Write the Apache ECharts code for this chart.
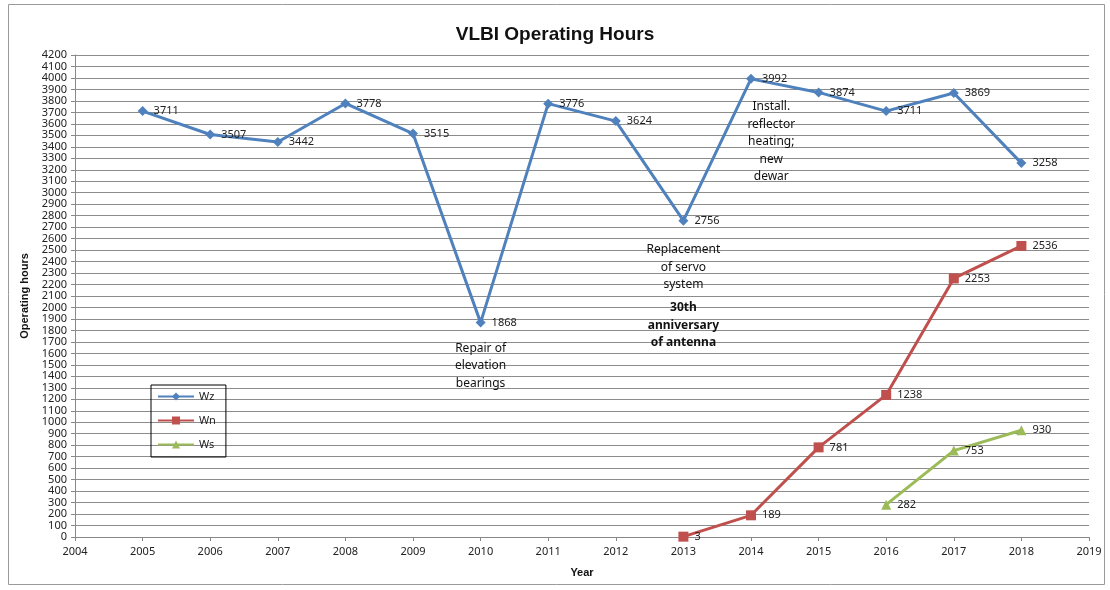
<!DOCTYPE html>
<html>
<head>
<meta charset="utf-8">
<script src="https://cdn.jsdelivr.net/npm/echarts@6/dist/echarts.min.js"></script>
<style>
    html, body { margin: 0; padding: 0; background: #fff; }
    #chart { width: 1110px; height: 590px; }
</style>
</head>
<body>
<div id="chart"></div>
<script>
    // operating hours per year
    const wzYears = [2005, 2006, 2007, 2008, 2009, 2010, 2011, 2012, 2013, 2014, 2015, 2016, 2017, 2018]
    const wzHours = [3711, 3507, 3442, 3778, 3515, 1868, 3776, 3624, 2756, 3992, 3874, 3711, 3869, 3258]
    const wnYears = [2013, 2014, 2015, 2016, 2017, 2018]
    const wnHours = [3, 189, 781, 1238, 2253, 2536]
    const wsYears = [2016, 2017, 2018]
    const wsHours = [282, 753, 930]

    // notes: [year, hours (top of text), text, bold]
    const notes = [
        [2010, 1720, 'Repair of\nelevation\nbearings', false],
        [2013, 2580, 'Replacement\nof servo\nsystem', false],
        [2013, 2075, '30th\nanniversary\nof antenna', true],
        [2014.3, 3825, 'Install.\nreflector\nheating;\nnew\ndewar', false]
    ]

    const font = 'Noto Sans'
    const pairs = (xs, ys) => xs.map((x, i) => [x, ys[i]])

    const chart = echarts.init(document.getElementById('chart'))

    function lineSeries(name, xs, ys, color, symbol, size) {
        return {
            name: name,
            type: 'line',
            data: pairs(xs, ys),
            symbol: symbol,
            symbolSize: size,
            itemStyle: { color: color },
            lineStyle: { color: color, width: 3 },
            label: {
                show: true,
                position: 'right',
                distance: 6,
                fontFamily: font,
                fontSize: 11,
                color: '#222'
            },
            animation: false
        }
    }

    chart.setOption({
        title: {
            text: 'VLBI Operating Hours',
            left: 'center',
            top: 20,
            textStyle: { fontFamily: 'Liberation Sans', fontSize: 19, fontWeight: 'bold', color: '#111' }
        },
        legend: {
            orient: 'vertical',
            left: 151,
            top: 385,
            itemWidth: 36,
            itemHeight: 10,
            itemGap: 13,
            padding: [6, 10, 7, 6],
            borderColor: '#000',
            borderWidth: 1,
            textStyle: { fontFamily: font, fontSize: 11, color: '#222' },
            data: ['Wz', 'Wn', 'Ws']
        },
        grid: { left: 75, right: 21, top: 55, bottom: 53 },
        xAxis: {
            type: 'value',
            min: 2004,
            max: 2019,
            interval: 1,
            name: 'Year',
            nameLocation: 'middle',
            nameGap: 30,
            nameTextStyle: { fontFamily: 'Liberation Sans', fontSize: 11, fontWeight: 'bold', color: '#111' },
            axisLine: { lineStyle: { color: '#888' } },
            axisTick: { show: true, length: 4, lineStyle: { color: '#888' } },
            axisLabel: { fontFamily: font, fontSize: 11, color: '#222', margin: 9, formatter: v => String(v) },
            splitLine: { show: false }
        },
        yAxis: {
            type: 'value',
            min: 0,
            max: 4200,
            interval: 100,
            name: 'Operating hours',
            nameLocation: 'middle',
            nameGap: 45,
            nameTextStyle: { fontFamily: 'Liberation Sans', fontSize: 11, fontWeight: 'bold', color: '#111' },
            axisLine: { show: true, lineStyle: { color: '#888' } },
            axisTick: { show: true, length: 4, lineStyle: { color: '#888' } },
            axisLabel: { fontFamily: font, fontSize: 11, color: '#222', margin: 8, formatter: v => String(v) },
            splitLine: { lineStyle: { color: '#8c8c8c', width: 1 } }
        },
        series: [
            lineSeries('Wz', wzYears, wzHours, '#4F81BD', 'diamond', 10),
            lineSeries('Wn', wnYears, wnHours, '#C0504D', 'rect', 10),
            lineSeries('Ws', wsYears, wsHours, '#9BBB59', 'triangle', 10)
        ]
    })

    // outer frame and notes
    const graphics = [{
        type: 'rect',
        shape: { x: 8.5, y: 4.5, width: 1096, height: 580 },
        style: { fill: null, stroke: '#9a9a9a', lineWidth: 1 },
        silent: true
    }]
    notes.forEach(n => {
        const p = chart.convertToPixel({ gridIndex: 0 }, [n[0], n[1]])
        graphics.push({
            type: 'text',
            x: p[0],
            y: p[1],
            style: {
                text: n[2],
                align: 'center',
                verticalAlign: 'top',
                fontFamily: font,
                fontSize: 12,
                lineHeight: 17.5,
                fontWeight: n[3] ? 'bold' : 'normal',
                fill: '#111'
            },
            silent: true
        })
    })
    chart.setOption({ graphic: graphics })
</script>
</body>
</html>
